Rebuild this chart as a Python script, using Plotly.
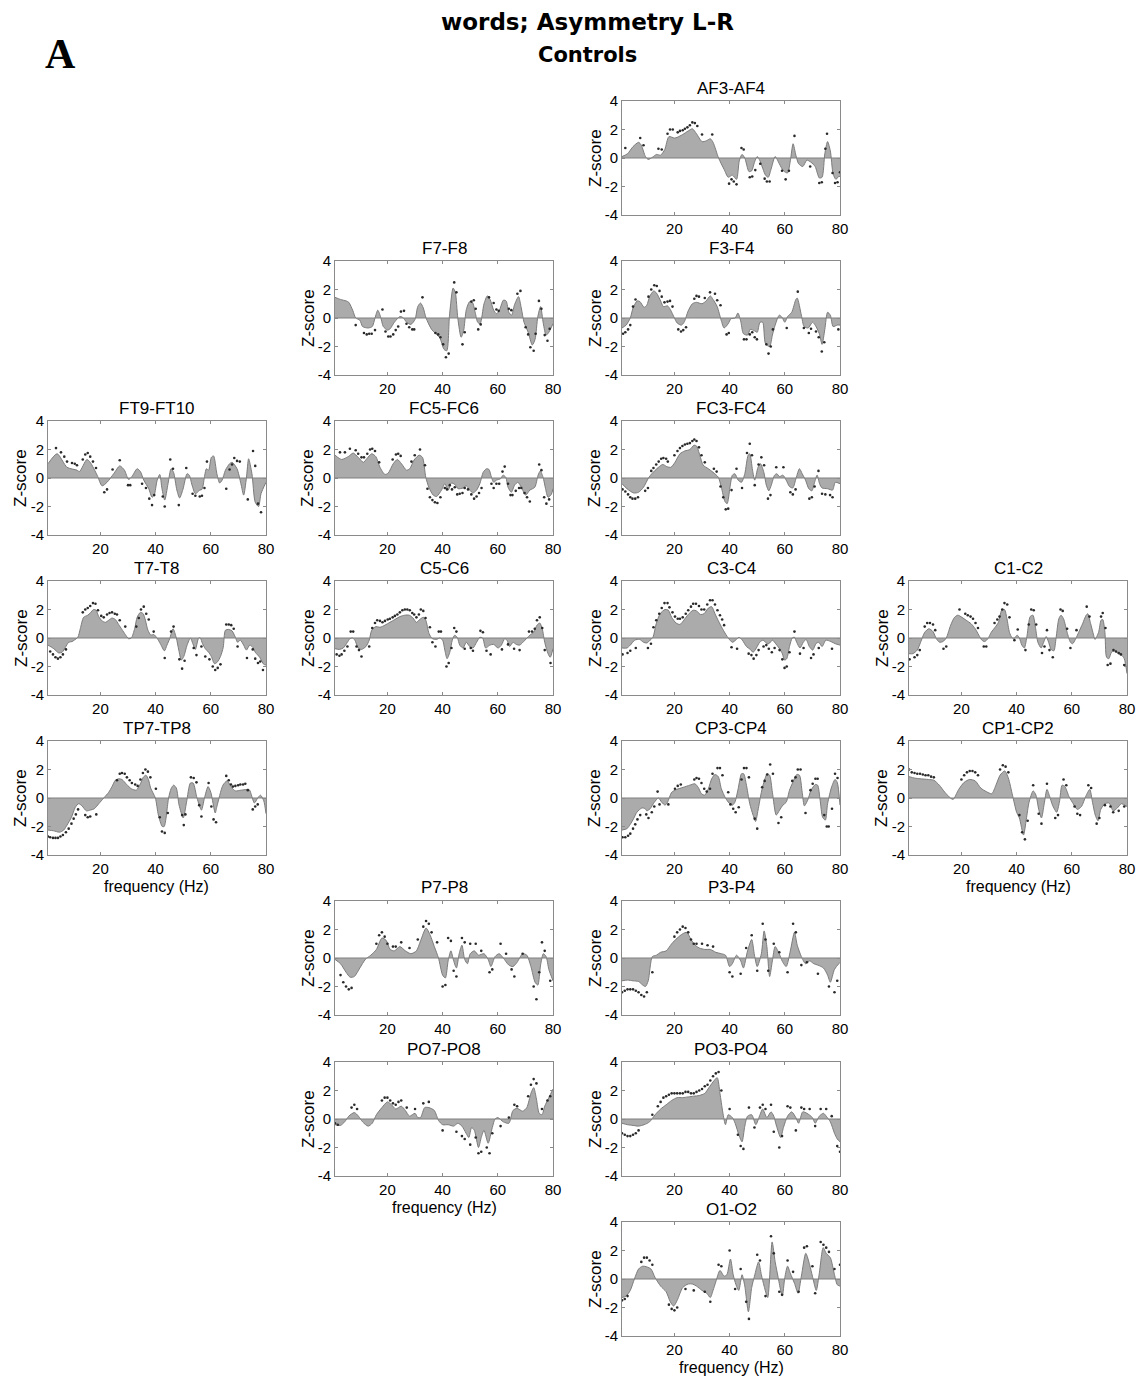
import plotly.graph_objects as go

# ---------------- data (frequency in Hz, Z-score) ----------------
AF3_AF4_FREQ = [1, 3, 5, 7, 8, 9.5, 10.5, 12, 13.5, 15, 16.5, 18, 20, 21, 23, 25, 26.5, 28, 30, 31.5, 33, 34, 36, 38, 39.5, 41, 42.5, 43.5, 44.5, 45.5, 47, 48, 49, 50, 51, 53, 54, 55, 56.5, 58, 59.5, 61, 62, 63, 64, 65, 66.5, 68, 69.5, 71, 72.5, 73.5, 74.5, 75.5, 76.5, 77.5, 78.5, 79.5, 80]
AF3_AF4_Z = [0.1, 0.3, 0.8, 1.1, 0.9, 0.1, -0.1, 0.05, 0.25, 0.2, 0.6, 1.5, 1.4, 1.45, 1.65, 1.9, 2.05, 1.7, 1.15, 1.2, 1.35, 1.1, 0, -0.8, -1.35, -1.2, -1.5, -0.2, 0.25, 0, -0.95, -0.9, -0.3, 0.1, -0.2, -1.2, -1.35, -0.8, 0.1, -0.4, -0.9, -1.05, -0.2, 1.0, 0.2, -0.4, -0.6, -0.15, -0.3, -0.6, -1.4, -1.35, 0.3, 1.15, 0.5, -1.1, -1.5, -1.3, -1.3]
AF3_AF4_DOT_FREQ = [2.2, 7.6, 8.8, 14.2, 15.4, 17.5, 18.4, 19.4, 21.2, 22, 23, 23.8, 24.7, 25.6, 26.5, 27.4, 28.3, 30, 33.7, 39.8, 40.7, 41.5, 42.5, 44.3, 45.1, 47.3, 48.2, 49.3, 51.1, 52.7, 53.5, 54.5, 59, 60.3, 61.5, 63.5, 69.2, 72.5, 73.4, 74.7, 75.3, 77.3, 78.2, 79.1, 80]
AF3_AF4_DOT_Z = [0.7, 1.4, 0.9, 0.65, 0.6, 1.7, 2.0, 2.0, 1.8, 1.9, 1.95, 2.05, 2.15, 2.3, 2.5, 2.45, 2.25, 1.65, 1.65, -1.8, -1.5, -1.65, -1.85, 0.7, 0.6, -1.35, -1.3, -0.85, -0.4, -1.45, -1.65, -1.65, -0.9, -1.5, -0.9, 1.55, -0.6, -1.75, -1.7, 0.65, 1.7, -1.05, -1.75, -1.7, -1.0]

F7_F8_FREQ = [1, 3, 5, 6, 7.5, 8.5, 10, 11, 13, 14.5, 15.5, 16.5, 17.5, 18.5, 20, 21, 22.5, 24.5, 25.5, 27, 28.5, 30, 31, 32, 33, 34, 36, 37.5, 39, 40.5, 41.5, 42.5, 43.8, 44.6, 45.5, 46.7, 47.6, 48.6, 49.8, 50.8, 51.8, 52.7, 53.6, 55, 56.2, 57.2, 58.5, 59.5, 60.5, 62, 63, 64, 65, 66, 67.5, 68.5, 69.5, 71, 72.5, 73.5, 74.5, 75.5, 76.5, 77.5, 78.5, 80]
F7_F8_Z = [1.45, 1.3, 1.2, 1.1, 0.5, 0, -0.15, -0.6, -0.7, -0.6, 0, 0.55, 0.1, -0.6, -0.85, -0.75, -0.3, 0.1, 0.05, -0.3, -0.45, -0.1, 0.8, 1.05, 0.7, 0, -0.8, -1.1, -1.4, -2.2, -2.3, 0.2, 2.1, 1.8, 0, -1.35, -0.9, 0.6, 1.15, 1.1, 0.4, -0.3, -0.4, 1.0, 1.55, 1.3, 0.55, 0.3, 0.5, 1.25, 1.2, 0.4, 0.2, 0.9, 1.5, 0.7, -0.3, -1.0, -1.9, -1.5, 0.1, 0.8, -0.4, -1.2, -1.0, -0.4]
F7_F8_DOT_FREQ = [8.5, 11.5, 12.5, 13.4, 14.3, 15.5, 18.2, 19.3, 20.3, 21.1, 22.1, 23, 23.9, 24.9, 26, 26.9, 27.9, 29, 29.7, 32.7, 37.4, 38.4, 39.2, 40.2, 41.2, 42.2, 44.2, 45, 47.2, 48, 50.4, 51.3, 52, 52.9, 53.8, 56.8, 58.5, 59.5, 60.3, 64, 64.9, 67.1, 68.2, 70.1, 71, 71.8, 73, 73.7, 74.9, 75.8, 77, 78, 78.8]
F7_F8_DOT_Z = [-0.5, -1.05, -1.15, -1.1, -1.1, -0.85, 0.6, -0.95, -1.3, -1.3, -1.15, -0.85, -0.6, 0.45, 0.5, -0.4, -0.65, -0.8, -0.8, 1.45, -1.05, -1.15, -1.35, -1.85, -2.75, -2.5, 2.5, 1.8, -1.85, -1.0, 1.15, 1.25, 0.65, -0.8, -0.45, 1.45, 1.05, 0.6, 0.5, 0.65, 0.55, 1.7, 1.9, -0.65, -1.15, -2.05, -2.3, -1.1, 1.2, 0.65, -1.2, -1.6, -0.75]

F3_F4_FREQ = [1, 2.5, 4, 5, 6.5, 7.5, 9, 10, 11, 12.5, 13.5, 15, 16, 17.5, 18.5, 20, 21, 22.5, 23.5, 25, 26.5, 28, 30, 31.5, 33, 34, 35.5, 37, 38, 39.5, 40.5, 42, 43, 44, 45, 46.5, 47.5, 49, 50, 51, 52, 53, 54.5, 55.5, 56.5, 58, 59, 60, 61, 62.5, 64, 64.5, 66, 67, 68.5, 70, 71, 72.5, 73.5, 74.5, 75.5, 76.5, 77.5, 79, 80]
F3_F4_Z = [-0.7, -0.5, 0, 0.7, 1.2, 1.15, 0.75, 0.9, 1.5, 1.9, 1.75, 1.2, 0.8, 0.85, 0.6, 0, -0.35, -0.5, -0.3, 0.5, 1.0, 1.1, 1.0, 1.2, 1.55, 1.3, 0.8, -0.2, -0.7, -0.4, -0.05, 0, 0.35, -0.2, -1.1, -1.2, -0.8, -0.9, -1.0, -0.3, -0.3, -1.8, -2.0, -1.2, -0.5, 0.2, 0.05, -0.3, 0.1, 0.4, 1.3, 1.4, 0.2, -0.6, -0.7, -0.3, -0.5, -1.1, -1.85, -0.8, 0.4, 0.2, -0.6, -0.5, -0.5]
F3_F4_DOT_FREQ = [1.4, 2.2, 3.2, 4, 5, 5.9, 10.6, 11.6, 12.7, 13.6, 14.6, 15.4, 16.4, 17.5, 18.4, 19.3, 21.4, 22.4, 23.2, 24.2, 27.2, 28, 28.9, 31, 32.9, 34.7, 35.5, 36.7, 38.9, 39.7, 45.2, 46.1, 47.3, 48.2, 49.1, 49.9, 53.3, 54.1, 54.9, 55.7, 60.7, 64.7, 66.9, 68.7, 69.5, 71.3, 72.3, 73.4, 74.3, 79.4]
F3_F4_DOT_Z = [-1.1, -1.0, -0.8, -0.5, 0.8, 1.3, 1.5, 2.0, 2.3, 2.25, 1.9, 1.5, 1.1, 1.15, 1.2, 0.8, -0.8, -0.95, -0.85, -0.65, 1.35, 1.55, 1.5, 1.4, 1.8, 1.7, 1.25, 0.9, -1.15, -1.05, -1.5, -1.5, -1.15, -1.0, -1.35, -1.5, -1.85, -2.5, -2.0, -0.8, -0.7, 1.85, -0.7, -1.05, -0.75, -0.95, -1.35, -2.35, -1.7, -0.8]

FT9_FT10_FREQ = [1, 4.3, 7.9, 11.5, 12.4, 15.1, 16.3, 18.8, 20.6, 22.4, 24.8, 27, 28.7, 30.2, 31.4, 33.3, 34.5, 35.7, 37.5, 38.7, 39.5, 40.5, 41.5, 42.3, 43.3, 44.5, 45.6, 46.5, 47.7, 48.7, 49.9, 51.4, 52.2, 53.2, 54.4, 56, 56.8, 57.8, 58.4, 59.2, 60.2, 61, 62.2, 63.2, 64.1, 65.3, 66.8, 67.7, 69.5, 70.9, 71.9, 72.9, 73.7, 74.9, 76.1, 77.3, 78.2, 80]
FT9_FT10_Z = [1.0, 1.7, 0.75, 0.55, 0.45, 1.3, 1.1, 0.2, -0.55, -0.3, 0.3, 0.85, 0.55, -0.1, 0.1, 0.65, 0.45, -0.15, -0.75, -1.35, -1.2, -0.2, 0.25, -0.75, -1.55, -0.4, 0.65, 0.4, -0.85, -1.4, -0.8, 0.3, 0.2, -0.5, -1.1, -0.85, -0.8, 0.2, 0.65, 0.55, 1.45, 1.55, 0.3, -0.35, -0.15, 0.55, 1.0, 1.1, 0.65, -0.4, -1.2, 0, 1.35, 0.3, -1.7, -2.0, -1.1, -0.3]
FT9_FT10_DOT_FREQ = [3.9, 5.7, 6.9, 7.9, 9.7, 10.7, 11.5, 13.6, 14.5, 15.4, 16.3, 17.3, 18.4, 21.4, 22.4, 24.4, 27, 30, 30.8, 35.1, 36.5, 37.7, 38.7, 39.5, 42.6, 43.3, 45.3, 46.3, 48.4, 51.1, 53.4, 54.4, 56, 56.8, 57.7, 58.6, 65.6, 66.8, 67.7, 68.5, 69.5, 70.5, 73.4, 75.3, 76.1, 77.1, 78.2]
FT9_FT10_DOT_Z = [2.1, 1.8, 1.5, 1.15, 1.05, 1.0, 0.9, 1.3, 1.65, 1.75, 1.5, 1.15, 0.7, -1.0, -0.8, 0.6, 1.25, -0.5, -0.5, -0.4, -0.7, -1.45, -1.9, -1.2, -1.3, -2.0, 1.3, 0.65, -1.9, 0.7, -1.1, -1.25, -1.3, -1.25, -0.7, 1.15, -0.75, 0.6, 0.95, 1.4, 1.2, 1.15, -1.5, 1.9, 0.85, -1.8, -2.4]

FC5_FC6_FREQ = [1, 3.4, 5.8, 7.6, 9.4, 11.3, 12.5, 14.3, 15.8, 17.3, 19.1, 20.3, 22.1, 23.6, 25.1, 26.9, 28.1, 29.6, 31.5, 32.7, 33.9, 35.1, 36.6, 37.8, 39.6, 40.8, 42, 43.2, 44.4, 45.6, 47.4, 48.6, 49.8, 51, 52.3, 53.5, 54.7, 55.9, 56.8, 57.7, 58.5, 59.5, 61, 61.9, 62.9, 63.7, 64.9, 66.1, 67.3, 68.5, 70.1, 71.6, 73.4, 74.6, 75.4, 76.4, 77.3, 78.2, 79.4, 80]
FC5_FC6_Z = [1.6, 1.3, 1.5, 1.75, 1.45, 1.1, 1.35, 1.7, 1.5, 0.75, 0.25, 0.35, 1.0, 1.3, 1.0, 0.55, 0.65, 1.25, 1.6, 1.45, 0.05, -0.7, -1.2, -1.3, -0.85, -0.4, -0.85, -0.35, -0.45, -0.75, -0.7, -0.55, -0.85, -1.05, -0.85, -0.4, 0.4, 0.65, 0.6, 0.05, -0.3, -0.15, -0.05, 0.2, 0.05, -0.65, -1.0, -0.5, -0.3, -0.65, -1.2, -0.85, -0.65, 0.2, 0.5, 0.05, -0.75, -1.35, -1.15, -0.75]
FC5_FC6_DOT_FREQ = [2.8, 4.6, 6.4, 8.5, 9.4, 10.6, 11.5, 12.7, 13.7, 14.5, 15.5, 17, 21.9, 23.1, 23.9, 24.8, 28.7, 29.9, 31.8, 33.6, 34.5, 35.4, 36.3, 37.2, 38.1, 39.2, 40.8, 41.6, 42.6, 43.4, 44.4, 45.3, 46.2, 47.2, 48, 49.2, 50.4, 51.4, 52.3, 53.2, 54.1, 57.7, 58.5, 59.5, 60.5, 61.7, 62.5, 63.7, 64.6, 65.3, 66.5, 67.7, 68.5, 69.7, 70.6, 71.6, 75, 75.8, 76.8, 77.6, 78.6]
FC5_FC6_DOT_Z = [1.8, 1.8, 2.05, 1.95, 1.7, 1.45, 1.45, 1.7, 2.0, 2.05, 1.9, 1.1, 1.3, 1.65, 1.7, 1.55, 1.15, 1.6, 2.0, 0.9, -0.75, -1.35, -1.55, -1.7, -1.75, -1.35, -0.7, -0.8, -0.5, -0.8, -0.65, -1.15, -1.1, -1.05, -0.7, -0.8, -1.15, -1.45, -1.3, -1.05, -0.7, -0.4, -0.7, -0.4, -0.4, 0.45, 0.8, -0.4, -1.2, -1.2, -0.9, -0.7, -0.7, -1.05, -1.35, -1.65, 0.95, 0.55, -1.35, -1.8, -1.5]

FC3_FC4_FREQ = [1, 2.8, 5.2, 7, 8.8, 10.6, 11.8, 14.2, 15.8, 17.2, 18.7, 20.2, 22, 23.8, 25.6, 27.1, 28, 29.2, 30.4, 32.3, 34, 35.9, 37, 38.3, 39.1, 40.1, 41, 41.9, 43.1, 44.3, 45.5, 46.7, 47.3, 48.3, 49.1, 50.3, 51.2, 52.4, 53.3, 54.2, 55.1, 56.3, 57.1, 58.1, 59.3, 60.5, 61.7, 62.9, 64.1, 65.3, 66.3, 67.5, 68.7, 69.8, 70.8, 71.7, 72.6, 73.5, 75.5, 77.3, 78.3, 80]
FC3_FC4_Z = [-0.4, -0.75, -1.05, -1.0, -0.65, 0, 0.3, 0.75, 0.95, 0.8, 0.75, 1.1, 1.7, 1.9, 2.0, 2.3, 2.25, 1.6, 0.9, 0.65, 0.4, 0.05, -0.65, -1.65, -1.8, -0.7, 0.2, 0.3, -0.15, -0.3, 0.3, 1.6, 1.7, 0.55, -0.15, 0.75, 1.0, 0.4, -0.5, -0.9, -0.5, 0.2, 0.3, 0.1, 0.2, -0.15, -0.6, -0.7, 0, 0.65, 0.3, -0.15, -0.75, -0.9, -0.3, 0.2, -0.4, -0.7, -0.75, -0.85, -0.3, -0.4]
FC3_FC4_DOT_FREQ = [1.2, 2.2, 3.2, 4, 4.8, 5.8, 6.8, 9.4, 10.4, 11.6, 12.4, 13.4, 14.3, 15.2, 16, 17, 17.6, 20, 21.1, 22, 22.9, 23.8, 24.7, 25.6, 26.5, 27.2, 28, 28.9, 29.8, 31, 34.3, 35.3, 36.7, 37.7, 38.6, 39.5, 40.7, 42.5, 44.5, 46.3, 47.3, 48.1, 49.1, 50.5, 51.5, 52.5, 53.9, 54.8, 56.9, 59.5, 62, 62.9, 63.9, 68.9, 69.8, 70.8, 72.2, 73.5, 74.7, 76.4, 77.3]
FC3_FC4_DOT_Z = [-0.8, -0.95, -1.15, -1.35, -1.45, -1.45, -1.35, -0.9, -0.7, 0.5, 0.7, 0.95, 1.15, 1.35, 1.4, 1.35, 1.15, 1.6, 1.9, 2.1, 2.25, 2.35, 2.4, 2.45, 2.6, 2.7, 2.6, 2.15, 1.6, 1.1, 0.65, 0.45, -0.6, -1.35, -2.2, -2.15, -0.85, 0.65, -0.7, 1.75, 2.4, 1.6, -0.5, 0.95, 1.45, 0.9, -1.45, -1.2, 0.75, 0.75, -1.0, -1.15, -0.8, -1.45, -1.35, -0.6, 0.5, -1.1, -1.15, -1.2, -1.35]

T7_T8_FREQ = [1, 3.1, 4.9, 6.1, 7.3, 8.5, 9.7, 10.5, 11.8, 12.7, 13.9, 15.4, 16.3, 17.5, 18.4, 19.4, 20.6, 21.8, 23, 24.2, 25.4, 26.6, 27.8, 29, 30.2, 31.2, 32.4, 33.3, 34.5, 35.5, 36.3, 37.2, 38.3, 39.3, 40.5, 41.7, 43.2, 44.1, 45.1, 46.3, 47.5, 48.4, 49.3, 50.2, 51.4, 52.6, 53.5, 54.4, 55.6, 56.2, 57, 58, 59.2, 60.2, 61.3, 62.3, 63.5, 64.5, 65.3, 66.5, 67.7, 68.9, 69.7, 70.7, 71.9, 72.9, 74.1, 75.2, 76.1, 77.7, 79.2, 80]
T7_T8_Z = [-0.5, -0.75, -1.05, -1.0, -0.65, -0.3, -0.25, -0.15, 0.05, 0.65, 1.45, 1.6, 1.75, 2.0, 1.95, 1.5, 1.2, 1.1, 1.25, 1.4, 1.3, 0.95, 0.6, 0.25, -0.05, 0, 0.65, 1.45, 1.8, 1.7, 1.25, 0.55, 0.2, 0.25, 0, -0.4, -0.9, -0.5, -0.05, 0.65, 0, -0.85, -1.55, -1.3, -0.5, 0, -0.4, -0.8, 0, 0, -0.4, -0.75, -1.0, -1.3, -1.8, -1.7, -1.3, -0.65, 0.55, 0.6, 0.5, 0.05, -0.3, -0.15, -0.5, -0.85, -0.5, -0.65, -1.0, -1.35, -1.85, -1.9]
T7_T8_DOT_FREQ = [1.8, 2.8, 3.7, 4.6, 5.5, 6.4, 7.5, 13.6, 14.5, 15.4, 16.3, 17.3, 18.2, 19.1, 20.3, 21.2, 22.4, 23.3, 24.2, 25.2, 26, 27, 29, 33, 33.9, 34.7, 35.7, 36.6, 37.5, 39.3, 43.3, 45.6, 46.5, 48.6, 49.6, 50.5, 53.8, 54.8, 56.6, 58, 59.5, 60.7, 61.6, 62.5, 63.5, 65.6, 66.5, 67.4, 68.3, 69.7, 73.1, 75.2, 76.1, 77.1, 77.9, 78.9]
T7_T8_DOT_Z = [-0.95, -1.15, -1.35, -1.45, -1.35, -1.15, -0.8, 1.8, 2.0, 2.1, 2.25, 2.45, 2.4, 1.95, 1.55, 1.45, 1.65, 1.75, 1.8, 1.7, 1.65, 1.25, 0.8, 0.8, 1.4, 2.0, 2.2, 1.7, 1.3, 0.45, -1.4, 0.45, 0.8, -1.5, -2.15, -1.6, -0.7, -1.2, -0.6, -1.3, -1.5, -2.0, -2.25, -2.1, -1.85, 0.95, 0.95, 0.9, 0.65, -0.6, -1.4, -0.8, -1.45, -1.75, -1.65, -2.25]

C5_C6_FREQ = [1, 2.6, 4, 5.5, 6.4, 7.4, 8.2, 9.4, 10.6, 12.2, 13.4, 14.3, 15.8, 17.3, 19.1, 20.9, 22.7, 24.5, 26.3, 27.9, 29.3, 30.5, 31.7, 33, 33.9, 35.1, 36.3, 37.8, 39, 40, 40.8, 41.6, 42.6, 43.5, 44.4, 45.4, 46.2, 47.4, 48.6, 49.8, 51, 52.3, 53.5, 54.5, 55.6, 57.1, 58.5, 60.1, 61.3, 62.5, 63.3, 64.3, 65.5, 66.7, 67.9, 69.1, 70.6, 71.6, 73, 74.2, 75.2, 76.1, 77, 78.2, 79, 80]
C5_C6_Z = [-0.75, -0.8, -0.7, -0.3, -0.05, 0, -0.15, -0.7, -0.8, -0.6, -0.15, 0.55, 0.8, 0.75, 0.9, 1.1, 1.3, 1.5, 1.6, 1.6, 1.4, 1.1, 1.3, 1.45, 1.25, 0.3, -0.05, -0.1, 0, -0.15, -0.85, -1.45, -1.0, -0.15, 0.2, 0, -0.5, -0.7, -0.3, -0.6, -0.7, -0.3, 0.05, 0, -0.7, -0.5, -0.45, -0.7, -0.5, -0.05, -0.15, -0.6, -0.3, -0.45, -0.5, -0.3, 0, 0.2, 0.4, 0.9, 1.05, 0.65, -0.3, -1.1, -1.35, -0.75]
C5_C6_DOT_FREQ = [1.6, 2.6, 3.4, 4.4, 5.5, 6.7, 7.6, 8.8, 9.7, 10.6, 13.4, 14.5, 15.5, 16.3, 17.3, 18.2, 19.1, 20.1, 20.9, 21.9, 22.7, 23.6, 24.5, 25.4, 26.3, 27.2, 28.1, 29, 29.7, 30.5, 31.4, 32.1, 33, 33.8, 35.4, 36.3, 37.4, 38.6, 39.4, 41.4, 42.2, 43.2, 44.2, 45, 48, 50.2, 51, 53.7, 54.6, 55.9, 57.4, 61.5, 63.7, 65.9, 67.9, 71.3, 72.4, 73.4, 74.2, 75.2, 76.1, 77, 79.1]
C5_C6_DOT_Z = [-1.15, -1.25, -1.15, -0.9, -0.6, 0.45, 0.45, -0.6, -0.85, -1.3, -0.6, 0.7, 1.05, 1.25, 1.2, 1.1, 1.2, 1.3, 1.35, 1.45, 1.55, 1.65, 1.8, 1.95, 2.0, 2.0, 1.95, 1.75, 1.65, 1.45, 1.65, 2.0, 1.9, 1.4, 0.75, -0.3, -0.6, 0.45, 0.45, -2.0, -1.75, -0.7, 0.7, 0.45, -0.75, -0.7, -0.9, 0.5, 0.4, -0.9, -1.15, -0.8, -0.45, -0.75, -0.85, 0.45, 0.45, 0.65, 1.25, 1.45, 0.7, -0.85, -1.75]

C3_C4_FREQ = [1, 2.8, 4, 5.6, 7.4, 8.8, 10, 11.2, 12.2, 13.4, 14.8, 16.6, 17.8, 19, 20.6, 22, 23.4, 25, 26.8, 28, 29.5, 30.7, 32.3, 33.5, 34.7, 36.2, 37.7, 39.5, 41, 42.2, 43.4, 44.6, 46.1, 47.5, 48.5, 49.7, 50.9, 52.1, 53.3, 54.2, 55.5, 56.7, 57.9, 59.1, 59.9, 60.7, 61.7, 62.7, 63.5, 64.3, 65.5, 66.7, 67.7, 68.9, 70.1, 71.3, 72.3, 73.5, 74.9, 76.7, 78.3, 80]
C3_C4_Z = [-0.7, -0.7, -0.5, -0.15, -0.1, -0.3, -0.35, -0.15, 0.05, 1.0, 1.7, 2.0, 1.95, 1.45, 1.05, 0.95, 1.25, 1.65, 1.95, 1.9, 1.65, 1.7, 2.1, 2.2, 1.7, 1.1, 0.55, 0, -0.3, -0.15, 0.05, -0.15, -0.6, -0.8, -1.0, -0.7, -0.3, -0.15, -0.35, -0.4, -0.15, -0.4, -0.7, -1.1, -1.55, -1.45, -0.6, 0, 0.05, -0.3, -0.7, -0.3, -0.1, -0.6, -0.85, -0.4, -0.3, -0.6, -0.15, -0.25, -0.4, -0.5]
C3_C4_DOT_FREQ = [1.2, 3, 4, 6, 10.4, 11.5, 12.4, 13.4, 14.5, 15.4, 16.4, 17.5, 18.2, 19.3, 20.2, 21.2, 22, 23, 24.1, 25, 26, 26.8, 27.8, 28.9, 29.8, 30.8, 31.9, 32.9, 33.8, 34.7, 35.6, 36.5, 37.3, 38, 40.7, 42.7, 46.9, 47.9, 48.7, 49.7, 50.5, 52.3, 53.3, 54.2, 55.3, 56.3, 58.1, 59.1, 59.9, 60.7, 61.7, 63.5, 65.5, 66.8, 69.5, 70.4, 72.3, 77.1]
C3_C4_DOT_Z = [-1.15, -1.05, -0.9, -0.7, -0.7, -0.4, 0.75, 1.25, 1.7, 2.1, 2.45, 2.45, 2.15, 1.8, 1.5, 1.35, 1.35, 1.45, 1.7, 1.95, 2.2, 2.4, 2.4, 2.25, 2.0, 2.0, 2.35, 2.65, 2.65, 2.35, 1.95, 1.6, 1.3, 0.9, -0.65, -0.75, -1.1, -1.2, -1.45, -1.2, -0.85, -0.6, -0.5, -0.75, -1.0, -0.7, -0.85, -1.5, -2.1, -2.0, -1.0, 0.45, -1.1, -0.7, -1.4, -1.15, -0.7, -0.75]

C1_C2_FREQ = [1, 2.4, 4, 5.2, 6.7, 8.2, 9.7, 10.9, 12.1, 13.3, 14.5, 16.1, 17.5, 18.7, 20.2, 21.7, 23.5, 25, 26.3, 27.4, 28.4, 29.6, 30.8, 32.2, 33.4, 34.6, 35.6, 36.5, 37.4, 38.4, 39.2, 40.2, 41, 41.9, 42.8, 43.8, 44.9, 45.9, 46.9, 47.7, 48.9, 49.8, 50.7, 51.6, 52.5, 53.5, 54.3, 55.3, 56.1, 57, 58.3, 59.5, 60.3, 61.3, 62.5, 63.9, 65.2, 65.8, 66.7, 67.9, 68.4, 69.7, 70.6, 71.2, 72, 72.6, 73.4, 74.4, 75.6, 76.8, 78, 79, 80]
C1_C2_Z = [-1.1, -1.1, -0.85, -0.3, 0.4, 0.65, 0.45, -0.05, -0.3, -0.25, 0, 0.9, 1.45, 1.6, 1.45, 1.25, 1.0, 0.65, 0.2, -0.15, -0.25, -0.05, 0.4, 0.75, 1.1, 1.95, 2.0, 1.35, 0.4, 0, 0, 0.2, 0, -0.5, -0.7, 0.2, 1.5, 1.6, 0.65, -0.3, -0.7, -0.3, 0.1, -0.3, -0.8, -0.9, 0, 1.35, 1.6, 1.35, 0.4, -0.3, -0.4, -0.1, 0.4, 1.0, 1.6, 1.7, 1.1, 0.2, -0.1, 0.4, 1.25, 1.3, 0.4, -1.35, -1.45, -1.0, -0.9, -1.1, -1.2, -1.45, -2.5]
C1_C2_DOT_FREQ = [1.2, 3, 4, 4.9, 6.7, 7.6, 8.6, 9.7, 10.5, 13.5, 14.5, 19.3, 21.4, 22.3, 23.3, 24.2, 25.1, 26, 28.1, 29, 32, 33, 33.8, 34.8, 35.6, 36.6, 37.4, 39.2, 40.4, 43.2, 44.4, 45.3, 46.2, 47.1, 49.2, 50.1, 51, 51.9, 53.1, 55.9, 56.7, 58.3, 59.5, 61.7, 65.4, 66.4, 70.6, 71.2, 72.2, 73, 74, 75.1, 76, 77, 77.8, 79]
C1_C2_DOT_Z = [-1.5, -1.35, -1.2, -0.85, 0.8, 1.05, 1.05, 0.95, 0.55, -0.75, -0.6, 2.0, 1.7, 1.6, 1.5, 1.35, 1.05, 0.7, -0.6, -0.6, 1.05, 1.3, 1.5, 2.0, 2.45, 2.35, 1.45, -0.15, 0.6, -0.85, 0.95, 2.0, 1.95, 0.95, -1.05, -0.6, 0.55, -0.85, -1.35, 2.0, 1.9, 0.65, -0.7, 0.55, 2.2, 1.5, 1.5, 1.75, 0.7, -1.9, -1.8, -0.85, -0.95, -1.05, -1.15, -1.9]

TP7_TP8_FREQ = [1, 3, 5.2, 6.7, 7.9, 9.5, 10.9, 12.1, 13.3, 14.9, 16.3, 17.8, 19.4, 21.2, 23, 24.2, 25.4, 26.6, 27.8, 29.5, 31.2, 33, 34.5, 35.5, 36.5, 37.4, 38.2, 39.9, 41, 42.4, 43.1, 44.7, 45.6, 46.5, 47.5, 48.5, 50, 51.2, 52.6, 53.6, 55, 56.6, 57.7, 59, 60, 61.6, 62.2, 64.4, 65.9, 67.7, 68.9, 71, 73.7, 74.1, 75.8, 77, 78, 79.2, 80]
TP7_TP8_Z = [-2.25, -2.3, -2.4, -2.25, -1.9, -1.35, -0.65, -0.4, -0.55, -0.9, -0.85, -0.75, -0.4, 0, 0.4, 0.8, 1.25, 1.35, 1.3, 0.95, 0.65, 0.55, 1.0, 1.45, 1.6, 1.3, 0.7, 0, -1.2, -2.0, -2.0, 0, 0.65, 0.9, 0.7, -0.5, -1.4, -0.3, 1.05, 1.05, 0, -0.85, 0, 0.8, 0.4, -1.05, -0.6, 0.9, 1.2, 0.7, 0.5, 0.55, 0.6, 0.55, -0.35, 0, 0.2, -0.2, -1.1]
TP7_TP8_DOT_FREQ = [1, 1.8, 2.8, 3.7, 4.6, 5.5, 6.4, 7.5, 8.5, 9.5, 10.3, 11.1, 11.9, 14.5, 15.4, 16.3, 18.5, 26, 27, 27.8, 28.8, 29.6, 30.6, 31.4, 32.6, 33.5, 34.5, 35.4, 36.3, 37.2, 38.1, 40.1, 41.5, 42.3, 43.3, 44.4, 49.6, 50.2, 50.8, 52.8, 53.8, 54.8, 55.8, 56.6, 59.2, 60.2, 61, 61.9, 65.6, 66.5, 67.3, 68, 68.9, 69.9, 70.7, 71.7, 72.5, 73.4, 75.2, 76.1, 77]
TP7_TP8_DOT_Z = [-2.7, -2.75, -2.8, -2.8, -2.8, -2.7, -2.6, -2.4, -2.15, -1.8, -1.45, -1.15, -0.8, -1.2, -1.35, -1.3, -1.15, 1.25, 1.7, 1.75, 1.7, 1.45, 1.25, 1.05, 0.95, 0.85, 1.3, 1.75, 2.0, 1.85, 1.45, 0.65, -1.35, -2.35, -2.45, -1.05, -1.2, -1.9, -1.15, 1.45, 1.4, 1.1, -0.5, -1.3, 1.05, -0.6, -1.5, -1.7, 1.55, 1.25, 0.95, 0.8, 0.85, 0.9, 0.95, 0.95, 1.0, 0.55, -0.8, -0.6, -0.45]

CP3_CP4_FREQ = [1, 2.8, 4, 5.2, 6.4, 8.2, 9.4, 10, 11.2, 12.7, 14.2, 15.4, 16.6, 17.5, 19, 20.8, 23.2, 25.6, 27.4, 28.6, 29.8, 31, 32.3, 33.5, 34.7, 35.9, 37, 38.5, 39.8, 41, 41.9, 43.1, 44.3, 45.1, 46, 47.3, 48.5, 49.4, 50.3, 51.5, 52.4, 53.6, 54.5, 55.5, 56.9, 58.1, 59.3, 60.5, 61.7, 62.9, 64.3, 65.3, 66.3, 67.1, 68.3, 69.5, 71.1, 71.9, 72.8, 73.7, 74.7, 75.5, 77, 78.2, 79, 80]
CP3_CP4_Z = [-2.25, -2.15, -1.85, -1.45, -1.0, -0.7, -0.75, -0.9, -0.75, -0.3, 0, -0.3, -0.5, -0.3, 0.4, 0.6, 0.75, 0.9, 1.0, 0.75, 0.3, 0.2, 0.65, 1.35, 1.65, 1.5, 0.65, 0, -0.35, -0.5, -0.3, 0.65, 1.7, 1.7, 1.0, -0.4, -1.2, -1.65, -0.85, 0.4, 1.1, 1.7, 1.6, 0.4, -1.2, -0.85, -0.5, -0.3, 0.55, 1.1, 1.65, 1.6, 0.4, -0.55, -0.15, 0.55, 0.95, 0.9, -0.15, -1.35, -1.55, -0.4, 0.8, 1.3, 1.1, -0.5]
CP3_CP4_DOT_FREQ = [1.2, 2.2, 3.2, 4, 5, 5.8, 6.6, 7.6, 9.8, 10.6, 11.8, 12.7, 13.9, 14.6, 17.8, 20.2, 21.2, 22.3, 27.2, 28, 28.9, 29.8, 30.8, 31.7, 32.9, 33.8, 35.6, 36.5, 37.4, 39.5, 40.3, 41.3, 42.2, 43.3, 44.3, 45.2, 46.1, 47, 49.1, 50, 51.8, 52.7, 53.6, 54.7, 55.7, 57.7, 58.7, 62.7, 63.9, 64.7, 65.7, 67.5, 69.3, 70.1, 71.1, 71.9, 74.3, 75.2, 75.9, 77.1, 78.2, 79.1]
CP3_CP4_DOT_Z = [-2.75, -2.75, -2.65, -2.5, -2.15, -1.85, -1.5, -1.2, -1.15, -1.4, -1.0, -0.6, 0.45, -0.45, -0.45, 0.65, 0.85, 0.95, 1.3, 1.4, 1.35, 1.05, 0.65, 0.45, 0.65, 1.7, 2.1, 2.1, 1.6, 0.4, -0.45, -0.75, -1.0, -0.65, 1.3, 2.1, 2.1, 1.45, -1.45, -2.15, 0.75, 1.2, 1.65, 2.35, 1.7, -1.75, -1.35, 1.2, 1.45, 2.0, 2.0, -1.05, 0.55, 1.0, 1.35, 1.35, -1.2, -2.0, -2.0, -0.75, 1.7, 1.4]

CP1_CP2_FREQ = [1, 3, 5, 8, 10, 12, 14, 16, 17, 19, 21, 23, 25, 27, 29, 31, 32.5, 34, 35.7, 37, 38.5, 40, 41, 42.5, 43.5, 44.5, 46, 47, 48, 49, 50, 51, 52, 53, 54.5, 55.5, 56.5, 57.5, 59, 60.5, 62, 63.5, 65, 66.5, 67.5, 68.5, 69.5, 70.5, 72, 73.5, 75, 76.5, 78, 80]
CP1_CP2_Z = [1.5, 1.4, 1.35, 1.3, 1.25, 0.9, 0.4, 0.0, -0.1, 0.6, 1.1, 1.3, 1.2, 0.7, 0.45, 0.3, 0.9, 1.6, 1.9, 1.4, 0.2, -1.0, -1.4, -2.6, -1.5, -0.3, 0.5, 0.2, -0.8, -1.4, -0.4, 0.6, 0.1, -0.5, -1.0, -0.3, 0.9, 0.8, 0.1, -0.4, -0.8, -0.6, 0.1, 0.6, -0.3, -1.2, -1.6, -0.8, -0.4, -0.35, -0.9, -0.7, -0.4, -0.6]
CP1_CP2_DOT_FREQ = [1, 2, 3, 4, 5, 6, 7, 8, 9, 10, 20, 21, 22, 23, 24, 25, 26, 34, 35, 36, 37, 41, 42, 43, 44, 46, 48, 49, 51, 54, 55, 57, 58, 61, 62, 63, 66, 67, 69, 70, 72, 74, 75, 77, 79]
CP1_CP2_DOT_Z = [2.0, 1.8, 1.75, 1.7, 1.7, 1.65, 1.6, 1.6, 1.5, 1.45, 1.3, 1.6, 1.8, 1.9, 1.9, 1.8, 1.6, 2.0, 2.3, 2.2, 1.8, -1.2, -2.4, -2.9, -1.6, 0.9, -1.1, -1.8, 1.0, -1.4, -1.2, 1.3, 0.9, -0.6, -1.1, -1.2, 0.9, 0.7, -1.8, -1.4, -0.5, -0.6, -1.0, -0.9, -0.6]

P7_P8_FREQ = [1, 3, 5, 6.5, 8, 10, 12, 14, 16, 18, 19.5, 21, 22.5, 24.5, 26.5, 28.5, 30.5, 32, 34, 35.5, 37, 38.5, 40, 41, 42, 43, 44, 45, 46, 47, 48, 49, 50, 51.5, 53, 55, 56.5, 57.5, 59, 60.5, 62, 64, 65.5, 67, 69, 70.5, 72, 73.5, 74.5, 75.5, 76.5, 77.5, 78.5, 80]
P7_P8_Z = [-0.1, -0.4, -1.0, -1.35, -1.3, -0.7, -0.1, 0.2, 0.6, 1.4, 1.25, 0.6, 0.5, 0.8, 0.5, 0.3, 0.5, 1.2, 2.1, 1.6, 0.8, 0, -1.2, -1.4, -0.2, 0.5, -0.2, -0.7, 0.3, 0.9, -0.1, -0.4, 0.3, 0.5, 0.2, 0.3, -0.1, -0.6, 0.1, 0.3, 0, -0.5, -0.6, -0.3, 0.3, 0.2, -0.6, -1.7, -1.9, -0.5, 0.3, 0.1, -0.8, -1.6]
P7_P8_DOT_FREQ = [3, 4, 5, 6, 7, 16, 17, 18, 19, 20, 22, 23, 25, 28, 31, 33, 34, 35, 36, 38, 40, 41, 42, 43, 44, 45, 47, 48, 50, 52, 54, 57, 58, 61, 63, 65, 66, 69, 73, 74, 75, 76, 77, 79]
P7_P8_DOT_Z = [-1.2, -1.7, -2.0, -2.2, -2.1, 1.0, 1.6, 1.8, 1.5, 1.0, 0.8, 0.8, 1.1, 0.7, 1.3, 2.2, 2.6, 2.4, 1.8, 1.1, -2.0, -1.9, 1.4, 1.2, -0.9, -1.3, 1.4, 1.1, 1.0, 1.0, 0.5, -1.0, -0.8, 1.0, 0.3, -0.8, -1.3, 0.3, -2.0, -2.9, -1.0, 1.1, 0.5, -1.6]

P3_P4_FREQ = [1, 3, 5, 7, 8.5, 9.5, 10.5, 12, 13.5, 15, 17, 19, 21, 23, 24.5, 26, 27.5, 29, 31, 33, 35, 37, 38.5, 40, 41, 42.5, 44, 45, 46.5, 48, 49, 50, 51.5, 52.5, 53.5, 54.5, 55.5, 56.5, 58, 59, 60.5, 62, 63.5, 64.5, 66, 67.5, 69, 70.5, 72, 74, 75.5, 76.5, 78, 80]
P3_P4_Z = [-1.6, -1.55, -1.6, -1.65, -1.9, -2.0, -1.6, 0.1, 0.2, 0.4, 0.5, 1.0, 1.4, 1.7, 1.8, 1.3, 0.9, 0.7, 0.6, 0.6, 0.4, 0.3, 0.2, -0.6, -0.4, 0.2, -0.2, -0.7, 0.5, 1.3, 0.2, -0.6, 0.3, 1.9, 0.8, -1.3, -0.2, 0.8, 0.3, -0.2, -0.6, 0.5, 1.8, 0.9, 0.1, -0.4, -0.2, -0.4, -0.5, -0.7, -1.2, -1.7, -0.8, -0.3]
P3_P4_DOT_FREQ = [1, 2, 3, 4, 5, 6, 7, 8, 9, 10, 12, 20, 21, 22, 23, 24, 25, 26, 27, 28, 30, 32, 34, 40, 41, 44, 46, 48, 50, 52, 53, 54, 56, 58, 61, 63, 64, 66, 68, 72, 76, 78, 79]
P3_P4_DOT_Z = [-2.4, -2.3, -2.2, -2.2, -2.2, -2.3, -2.4, -2.6, -2.7, -2.4, -1.0, 1.5, 1.8, 2.0, 2.2, 2.1, 1.8, 1.3, 1.0, 1.0, 1.0, 0.9, 0.8, -1.0, -1.3, -1.1, 0.7, 1.6, -0.9, 2.4, 1.3, -0.9, 1.0, 0.4, -1.0, 2.4, 1.8, -0.5, -0.3, -1.1, -2.0, -2.4, -1.6]

PO7_PO8_FREQ = [1, 3, 4.5, 6, 8, 9.5, 11, 13, 14.5, 16, 18, 20, 21.5, 23, 25, 26.5, 28, 30, 31, 32, 33.5, 35, 37, 38.5, 40, 42, 44, 45.5, 47, 48.5, 49.5, 50.5, 51.5, 53, 54, 55, 56.5, 58, 59, 60, 62, 64, 65.5, 67, 69, 70.5, 72, 73, 74, 75, 76, 77, 78.5, 80]
PO7_PO8_Z = [-0.4, -0.45, -0.2, 0.2, 0.45, 0.2, -0.2, -0.5, -0.3, 0.3, 0.8, 1.2, 1.0, 0.7, 0.9, 0.6, 0.2, 0.4, 0.1, 0.1, 0.8, 0.8, 0.6, -0.1, -0.4, -0.4, -0.5, -0.3, -0.5, -1.0, -1.3, -0.6, -0.8, -2.0, -1.3, -0.8, -1.7, -0.6, 0.0, 0.1, -0.2, -0.3, 0.6, 0.75, 0.55, 0.8, 1.8, 2.2, 1.4, 0.4, 0.3, 0.9, 1.5, 2.1]
PO7_PO8_DOT_FREQ = [1, 2, 7, 8, 9, 18, 19, 20, 21, 22, 23, 24, 25, 27, 30, 33, 35, 40, 45, 47, 48, 50, 52, 53, 54, 56, 57, 58, 61, 64, 66, 67, 71, 72, 73, 74, 76, 78, 79]
PO7_PO8_DOT_Z = [-0.3, -0.4, 0.8, 1.0, 0.7, 1.3, 1.5, 1.5, 1.3, 1.1, 1.0, 1.2, 1.3, 0.8, 0.7, 1.1, 1.2, -0.8, -0.9, -1.2, -1.4, -1.8, -1.3, -2.4, -2.3, -2.0, -2.4, -1.0, -0.5, 0.1, 1.0, 0.9, 1.6, 2.4, 2.8, 2.5, 0.7, 1.3, 1.6]

PO3_PO4_FREQ = [1, 3, 5, 7, 9, 11, 13, 15, 17, 19, 21, 23, 25, 27, 29, 31, 32.5, 34, 35.5, 36.5, 37.5, 38.5, 39.5, 41, 42, 43.5, 44.5, 45.5, 46.5, 48, 49.5, 51, 52, 53.5, 55, 56, 57, 58.5, 59.5, 61, 62.5, 64, 65, 66.5, 68, 70, 71, 72.5, 74, 75, 76.5, 78, 79, 80]
PO3_PO4_Z = [-0.3, -0.4, -0.45, -0.5, -0.4, -0.2, 0.3, 0.7, 1.0, 1.3, 1.5, 1.5, 1.55, 1.6, 1.65, 1.8, 2.2, 2.6, 2.9, 1.8, 0.5, -0.4, 0.3, 0.1, -0.3, -1.2, -1.6, -0.5, 0.2, 0.3, -0.4, 0.3, 0.7, 0.1, 0.5, 0.2, -0.5, -1.3, -0.6, 0.2, 0.5, 0.1, -0.3, 0.5, 0.4, 0.1, -0.3, 0.2, 0.4, 0.2, -0.2, -1.0, -1.4, -1.6]
PO3_PO4_DOT_FREQ = [1, 2, 3, 4, 5, 6, 7, 12, 14, 15, 16, 17, 18, 19, 20, 21, 22, 23, 24, 25, 26, 27, 28, 29, 30, 31, 32, 33, 34, 35, 36, 37, 40, 43, 44, 45, 47, 49, 51, 52, 53, 55, 56, 58, 59, 61, 62, 64, 66, 67, 69, 71, 73, 75, 77, 79, 80]
PO3_PO4_DOT_Z = [-1.0, -1.1, -1.2, -1.2, -1.1, -1.0, -0.8, 0.3, 0.9, 1.2, 1.5, 1.6, 1.7, 1.8, 1.8, 1.8, 1.8, 1.8, 1.9, 1.9, 1.8, 1.8, 1.9, 2.0, 2.1, 2.3, 2.4, 2.7, 3.0, 3.2, 3.3, 2.0, 0.7, -1.1, -1.9, -2.1, 0.8, -0.6, 0.8, 1.0, 0.7, 1.0, -0.9, -2.0, -1.2, 0.9, 0.8, -0.8, 0.8, 0.7, 0.7, -0.5, 0.7, 0.7, 0.2, -1.9, -2.3]

O1_O2_FREQ = [1, 2.5, 4, 5.5, 7, 8.5, 10, 11.5, 13, 15, 17, 18.5, 19.7, 21, 23, 25, 26.5, 28, 30, 31.7, 33, 34, 35, 36.5, 38, 39, 40.3, 41.3, 42.3, 43.3, 44.5, 45.5, 46.8, 48, 49, 50.5, 51.5, 52.5, 53.8, 55.4, 56.5, 57.5, 58.5, 59.1, 60, 61, 62, 63.5, 64.8, 66, 67.6, 69, 70, 71.4, 72.5, 73.9, 75, 76.5, 78, 79, 80]
O1_O2_Z = [-1.3, -1.2, -0.8, 0, 0.7, 0.9, 0.85, 0.7, 0.1, -0.5, -0.9, -1.6, -1.9, -1.5, -0.6, -0.35, -0.35, -0.5, -0.8, -1.0, -1.3, -0.8, -0.2, 0.6, 0.2, 0.3, 1.4, 0.3, -0.4, -0.8, 0.3, -0.5, -2.3, -0.6, 0.2, 1.2, 0.3, -0.5, -1.3, 2.6, 1.2, 0.2, -0.8, -1.2, 0.1, 0.9, 0.4, -0.3, -1.0, 0.2, 1.8, 1.0, 0.2, -0.8, 0.4, 2.2, 1.8, 1.5, 0.3, -0.4, -0.5]
O1_O2_DOT_FREQ = [1, 2, 3, 8, 9, 10, 11, 12, 18, 19, 20, 21, 24, 27, 31, 33, 36, 37, 40, 42, 44, 46, 47, 50, 51, 53, 55, 56, 58, 59, 61, 63, 65, 67, 68, 70, 71, 73, 74, 75, 76, 78, 80]
O1_O2_DOT_Z = [-1.5, -1.4, -1.2, 1.2, 1.5, 1.5, 1.3, 1.0, -1.8, -2.1, -2.2, -2.0, -0.7, -0.8, -0.9, -1.6, 1.0, 0.9, 2.0, -0.7, 0.7, -1.6, -2.8, 1.7, 1.3, -1.2, 3.0, 1.8, -0.9, -1.1, 1.3, 0.5, -0.9, 2.2, 2.3, 0.9, -1.0, 2.6, 2.4, 2.2, 1.9, 0.7, 1.0]

X_TICKS = [20, 40, 60, 80]
Y_TICKS = [-4, -2, 0, 2, 4]
Y_TICK_TEXT = ["-4", "-2", "0", "2", "4"]

# (title, row, col, curve freq, curve z, dot freq, dot z, show x label)
PANELS = [
    ("AF3-AF4", 0, 2, AF3_AF4_FREQ, AF3_AF4_Z, AF3_AF4_DOT_FREQ, AF3_AF4_DOT_Z, False),
    ("F7-F8", 1, 1, F7_F8_FREQ, F7_F8_Z, F7_F8_DOT_FREQ, F7_F8_DOT_Z, False),
    ("F3-F4", 1, 2, F3_F4_FREQ, F3_F4_Z, F3_F4_DOT_FREQ, F3_F4_DOT_Z, False),
    ("FT9-FT10", 2, 0, FT9_FT10_FREQ, FT9_FT10_Z, FT9_FT10_DOT_FREQ, FT9_FT10_DOT_Z, False),
    ("FC5-FC6", 2, 1, FC5_FC6_FREQ, FC5_FC6_Z, FC5_FC6_DOT_FREQ, FC5_FC6_DOT_Z, False),
    ("FC3-FC4", 2, 2, FC3_FC4_FREQ, FC3_FC4_Z, FC3_FC4_DOT_FREQ, FC3_FC4_DOT_Z, False),
    ("T7-T8", 3, 0, T7_T8_FREQ, T7_T8_Z, T7_T8_DOT_FREQ, T7_T8_DOT_Z, False),
    ("C5-C6", 3, 1, C5_C6_FREQ, C5_C6_Z, C5_C6_DOT_FREQ, C5_C6_DOT_Z, False),
    ("C3-C4", 3, 2, C3_C4_FREQ, C3_C4_Z, C3_C4_DOT_FREQ, C3_C4_DOT_Z, False),
    ("C1-C2", 3, 3, C1_C2_FREQ, C1_C2_Z, C1_C2_DOT_FREQ, C1_C2_DOT_Z, False),
    ("TP7-TP8", 4, 0, TP7_TP8_FREQ, TP7_TP8_Z, TP7_TP8_DOT_FREQ, TP7_TP8_DOT_Z, True),
    ("CP3-CP4", 4, 2, CP3_CP4_FREQ, CP3_CP4_Z, CP3_CP4_DOT_FREQ, CP3_CP4_DOT_Z, False),
    ("CP1-CP2", 4, 3, CP1_CP2_FREQ, CP1_CP2_Z, CP1_CP2_DOT_FREQ, CP1_CP2_DOT_Z, True),
    ("P7-P8", 5, 1, P7_P8_FREQ, P7_P8_Z, P7_P8_DOT_FREQ, P7_P8_DOT_Z, False),
    ("P3-P4", 5, 2, P3_P4_FREQ, P3_P4_Z, P3_P4_DOT_FREQ, P3_P4_DOT_Z, False),
    ("PO7-PO8", 6, 1, PO7_PO8_FREQ, PO7_PO8_Z, PO7_PO8_DOT_FREQ, PO7_PO8_DOT_Z, True),
    ("PO3-PO4", 6, 2, PO3_PO4_FREQ, PO3_PO4_Z, PO3_PO4_DOT_FREQ, PO3_PO4_DOT_Z, False),
    ("O1-O2", 7, 2, O1_O2_FREQ, O1_O2_Z, O1_O2_DOT_FREQ, O1_O2_DOT_Z, True),
]

# ---------------- layout geometry (pixels) ----------------
W, H = 1141, 1381
COL_LEFT = [48, 335, 622, 909]
ROW_TOP = [101, 261, 421, 581, 741, 901, 1062, 1222]
PW, PH = 218, 114

FONT = "Liberation Sans, Arial, sans-serif"
FRAME = "#8a8a8a"

fig = go.Figure()
layout = {}
annotations = []

for i, (title, r, c, fq, z, dfq, dz, xlab) in enumerate(PANELS, start=1):
    sfx = "" if i == 1 else str(i)
    xa, ya = "x" + sfx, "y" + sfx
    left, top = COL_LEFT[c], ROW_TOP[r]
    x0, x1 = left / W, (left + PW) / W
    y0, y1 = 1 - (top + PH) / H, 1 - top / H

    fig.add_trace(go.Scatter(
        x=fq, y=z, mode="lines", xaxis=xa, yaxis=ya,
        line=dict(color="#7c7c7c", width=1, shape="spline", smoothing=0.7),
        fill="tozeroy", fillcolor="#ababab", showlegend=False, hoverinfo="skip"))
    fig.add_trace(go.Scatter(
        x=[1, 80], y=[0, 0], mode="lines", xaxis=xa, yaxis=ya,
        line=dict(color="#808080", width=1.2), showlegend=False, hoverinfo="skip"))
    fig.add_trace(go.Scatter(
        x=dfq, y=dz, mode="markers", xaxis=xa, yaxis=ya,
        marker=dict(color="#2a2a2a", size=2.6, symbol="circle"),
        showlegend=False, hoverinfo="skip"))

    layout["xaxis" + sfx] = dict(
        domain=[x0, x1], anchor=ya, range=[1, 80], tickvals=X_TICKS,
        ticks="inside", ticklen=3, tickcolor=FRAME, showline=True,
        linecolor=FRAME, linewidth=1, mirror="ticks", showgrid=False,
        zeroline=False, fixedrange=True, automargin=False,
        tickfont=dict(size=15, color="black", family=FONT))
    layout["yaxis" + sfx] = dict(
        domain=[y0, y1], anchor=xa, range=[-4, 4], tickvals=Y_TICKS,
        ticktext=Y_TICK_TEXT, ticks="inside", ticklen=3, tickcolor=FRAME,
        showline=True, linecolor=FRAME, linewidth=1, mirror="ticks",
        showgrid=False, zeroline=False, fixedrange=True, automargin=False,
        tickfont=dict(size=15, color="black", family=FONT))

    annotations.append(dict(
        text=title, xref="paper", yref="paper", x=(left + PW / 2) / W,
        y=1 - (top - 13) / H, xanchor="center", yanchor="middle",
        showarrow=False, font=dict(size=17, color="black", family=FONT)))
    annotations.append(dict(
        text="Z-score", xref="paper", yref="paper", x=(left - 27) / W,
        y=1 - (top + PH / 2) / H, xanchor="center", yanchor="middle",
        textangle=-90, showarrow=False,
        font=dict(size=17, color="black", family=FONT)))
    if xlab:
        annotations.append(dict(
            text="frequency (Hz)", xref="paper", yref="paper",
            x=(left + PW / 2) / W, y=1 - (top + PH + 31) / H,
            xanchor="center", yanchor="middle", showarrow=False,
            font=dict(size=16, color="black", family=FONT)))

annotations += [
    dict(text="<b>words; Asymmetry L-R</b>", xref="paper", yref="paper",
         x=587 / W, y=1 - 22 / H, xanchor="center", yanchor="middle",
         showarrow=False, font=dict(size=23, color="black", family="DejaVu Sans")),
    dict(text="<b>Controls</b>", xref="paper", yref="paper",
         x=587 / W, y=1 - 55 / H, xanchor="center", yanchor="middle",
         showarrow=False, font=dict(size=21, color="black", family="DejaVu Sans")),
    dict(text="<b>A</b>", xref="paper", yref="paper",
         x=60 / W, y=1 - 54 / H, xanchor="center", yanchor="middle",
         showarrow=False, font=dict(size=42, color="black", family="Liberation Serif")),
]

fig.update_layout(
    template="none", autosize=False,
    width=W, height=H, margin=dict(l=0, r=0, t=0, b=0, pad=0),
    paper_bgcolor="white", plot_bgcolor="white",
    annotations=annotations, showlegend=False, **layout)

fig.write_html(
    "out.html",
    config={"displayModeBar": False, "responsive": False},
    post_script="document.body.style.margin='0';document.body.style.overflow='hidden';")
